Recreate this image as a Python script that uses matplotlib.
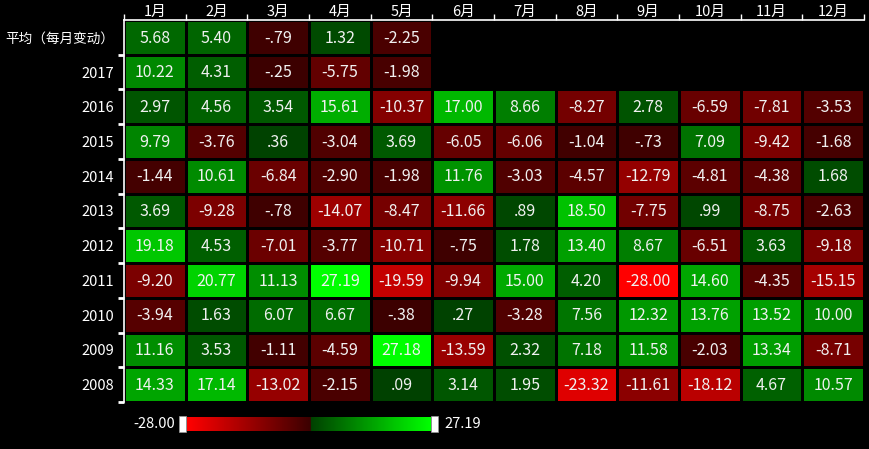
import numpy as np
import matplotlib
matplotlib.use('Agg')
import matplotlib.pyplot as plt
from matplotlib.colors import LinearSegmentedColormap, Normalize

plt.rcParams['font.family'] = ['Noto Sans CJK SC', 'DejaVu Sans']

# 数据
months = ['1月', '2月', '3月', '4月', '5月', '6月', '7月', '8月', '9月', '10月', '11月', '12月']
rows = ['平均（每月变动）', '2017', '2016', '2015', '2014', '2013', '2012', '2011', '2010', '2009', '2008']
nan = np.nan
avg = [5.68, 5.40, -0.79, 1.32, -2.25] + [nan] * 7
y2017 = [10.22, 4.31, -0.25, -5.75, -1.98] + [nan] * 7
y2016 = [2.97, 4.56, 3.54, 15.61, -10.37, 17.00, 8.66, -8.27, 2.78, -6.59, -7.81, -3.53]
y2015 = [9.79, -3.76, 0.36, -3.04, 3.69, -6.05, -6.06, -1.04, -0.73, 7.09, -9.42, -1.68]
y2014 = [-1.44, 10.61, -6.84, -2.90, -1.98, 11.76, -3.03, -4.57, -12.79, -4.81, -4.38, 1.68]
y2013 = [3.69, -9.28, -0.78, -14.07, -8.47, -11.66, 0.89, 18.50, -7.75, 0.99, -8.75, -2.63]
y2012 = [19.18, 4.53, -7.01, -3.77, -10.71, -0.75, 1.78, 13.40, 8.67, -6.51, 3.63, -9.18]
y2011 = [-9.20, 20.77, 11.13, 27.19, -19.59, -9.94, 15.00, 4.20, -28.00, 14.60, -4.35, -15.15]
y2010 = [-3.94, 1.63, 6.07, 6.67, -0.38, 0.27, -3.28, 7.56, 12.32, 13.76, 13.52, 10.00]
y2009 = [11.16, 3.53, -1.11, -4.59, 27.18, -13.59, 2.32, 7.18, 11.58, -2.03, 13.34, -8.71]
y2008 = [14.33, 17.14, -13.02, -2.15, 0.09, 3.14, 1.95, -23.32, -11.61, -18.12, 4.67, 10.57]

vmin, vmax = -28.00, 27.19

values = np.array([avg, y2017, y2016, y2015, y2014, y2013, y2012, y2011, y2010, y2009, y2008])
data = np.ma.masked_invalid(values)

# 颜色：红 -> 暗红 | 暗绿 -> 绿
z = (0 - vmin) / (vmax - vmin)
cmap = LinearSegmentedColormap.from_list('rg', [
    (0.0, '#ff0000'), (z, '#3a0000'), (z + 1e-4, '#004000'), (1.0, '#00ff00')])
norm = Normalize(vmin, vmax)


def fmt(v):
    s = '%.2f' % v
    if s.startswith('0.'):
        s = s[1:]
    elif s.startswith('-0.'):
        s = '-' + s[2:]
    return s


fig = plt.figure(figsize=(8.7, 4.49), dpi=100, facecolor='black')
ax = fig.add_axes([124 / 870, 47 / 449, 740 / 870, 382 / 449])
ax.set_facecolor('black')

nr, nc = values.shape
ax.pcolormesh(np.arange(nc + 1), np.arange(nr + 1), data, cmap=cmap, norm=norm,
              edgecolors='black', linewidth=2)
ax.set_xlim(0, nc)
ax.set_ylim(nr, 0)

for i in range(nr):
    for j in range(nc):
        v = values[i, j]
        if not np.isnan(v):
            ax.text(j + 0.5, i + 0.52, fmt(v), ha='center', va='center',
                    color='#f0f0f0', fontsize=11.5)

# 坐标轴
ax.xaxis.tick_top()
ax.set_xticks(np.arange(nc) + 0.5)
ax.set_xticklabels(months, color='white', fontsize=10.5)
ax.set_xticks(np.arange(nc + 1), minor=True)
ax.tick_params(axis='x', which='major', length=0, pad=1)
ax.tick_params(axis='x', which='minor', length=4, color='white', width=1)

ax.set_yticks(np.arange(nr) + 0.5)
ax.set_yticklabels(rows, color='white', fontsize=10.5)
ax.get_yticklabels()[0].set_fontsize(9.8)
ax.set_yticks(np.arange(1, nr + 1), minor=True)
ax.tick_params(axis='y', which='major', length=0, pad=7)
ax.tick_params(axis='y', which='minor', length=4, color='white', width=2)

for side in ['bottom', 'right']:
    ax.spines[side].set_visible(False)
for side in ['top', 'left']:
    ax.spines[side].set_color('white')
    ax.spines[side].set_linewidth(1.2)

# 视觉映射条
cax = fig.add_axes([187 / 870, 18 / 449, 244 / 870, 14 / 449])
grad = np.linspace(vmin, vmax, 400).reshape(1, -1)
cax.imshow(grad, aspect='auto', cmap=cmap, norm=norm, extent=[vmin, vmax, 0, 1])
cax.set_axis_off()
fig.text(175 / 870, 25 / 449, '%.2f' % vmin, ha='right', va='center', color='white', fontsize=10.5)
fig.text(444 / 870, 25 / 449, '%.2f' % vmax, ha='left', va='center', color='white', fontsize=10.5)
for xh in [183, 435]:
    fig.patches.append(plt.Rectangle((xh / 870 - 4 / 870, 17 / 449), 7 / 870, 16 / 449,
                                     transform=fig.transFigure, facecolor='white',
                                     edgecolor='#999999', linewidth=0.5))

fig.savefig('out.png', dpi=100, facecolor='black')
